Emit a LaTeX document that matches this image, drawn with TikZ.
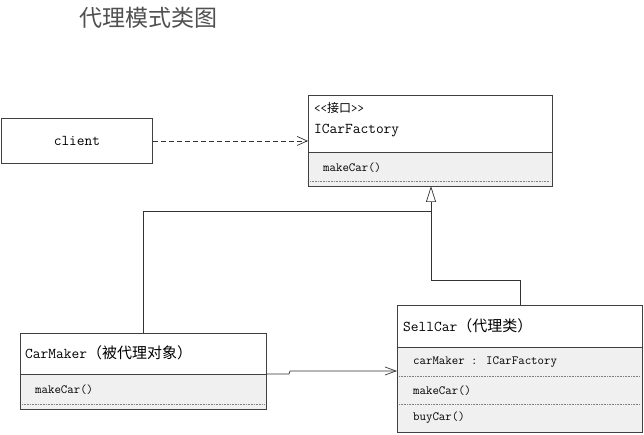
\documentclass[tikz,border=0pt]{standalone}
\usepackage{fontspec}
\newfontfamily\cjk{Noto Sans CJK SC}
\usetikzlibrary{arrows.meta}
\definecolor{linec}{HTML}{404040}
\definecolor{compc}{HTML}{F0F0F0}
\definecolor{titlec}{HTML}{505050}
\begin{document}
\begin{tikzpicture}[x=1pt,y=-1pt,
  umlbox/.style={draw=linec, line width=0.9pt, rectangle, inner sep=0pt, anchor=north west},
  head/.style={anchor=west, inner sep=0pt, font=\ttfamily\fontsize{15}{15}\selectfont, text=black},
  small/.style={anchor=west, inner sep=0pt, font=\ttfamily\fontsize{12.5}{12.5}\selectfont, text=black},
  sepline/.style={draw=linec, line width=0.8pt},
  dotline/.style={draw=gray, line width=0.6pt, dash pattern=on 0.8pt off 0.8pt},
  conn/.style={draw=black!80, line width=0.7pt}
]
\useasboundingbox[fill=white] (0,0) rectangle (644,435);

% title
\node[font=\cjk\fontsize{23}{23}\selectfont, text=titlec, inner sep=0pt] (title) at (148,18) {代理模式类图};

% client
\node[umlbox, minimum width=151pt, minimum height=45pt, font=\ttfamily\fontsize{15}{15}\selectfont] (client) at (1,118) {client};

% ICarFactory
\fill[compc] (308,152) rectangle (552,186);
\node[umlbox, minimum width=244pt, minimum height=91pt] (icf) at (308,95) {};
\draw[sepline] (308,152) -- (552,152);
\draw[dotline] (310,181) -- (550,181);
\node[small] (icfst) at (314,108) {{<}{<}{\cjk\fontsize{12}{12}\selectfont 接口}{>}{>}};
\node[head] (icfname) at (314,131) {ICarFactory};
\node[small] (icfm) at (323,168) {makeCar()};

% CarMaker
\fill[compc] (20,374) rectangle (266,409);
\node[umlbox, minimum width=246pt, minimum height=76pt] (cm) at (20,333) {};
\draw[sepline] (20,374) -- (266,374);
\draw[dotline] (22,404) -- (264,404);
\node[head] (cmname) at (25,353) {CarMaker{\cjk\fontsize{15}{15}\selectfont （被代理对象）}};
\node[small] (cmm) at (35,390) {makeCar()};

% SellCar
\fill[compc] (397,347) rectangle (642,432);
\node[umlbox, minimum width=245pt, minimum height=127pt] (sc) at (397,305) {};
\draw[sepline] (397,347) -- (642,347);
\draw[dotline] (399,376) -- (640,376);
\draw[dotline] (399,404) -- (640,404);
\node[head] (scname) at (403,326) {SellCar{\cjk\fontsize{15}{15}\selectfont （代理类）}};
\node[small] (scattr) at (413,362) {carMaker : ICarFactory};
\node[small] (scm1) at (413,391) {makeCar()};
\node[small] (scm2) at (413,418) {buyCar()};

% client -> ICarFactory (dependency)
\draw[conn, dash pattern=on 5pt off 3pt, -{Straight Barb[length=10pt,width=9pt]}]
  (client.east) -- (client.east -| icf.west);

% generalisation lines
\coordinate (tri) at (431,186);
\coordinate (cmtop) at (143,333);
\coordinate (sctop) at (520,305);
\draw[conn] (cmtop) |- (431,211);
\draw[conn, -{Triangle[length=16pt,width=10pt,fill=white]}] (sctop) -- (520,280) -| (tri);

% CarMaker -> SellCar (association)
\coordinate (cmout) at (266,374);
\draw[conn, -{Straight Barb[length=11pt,width=8pt]}]
  (cmout) -- (289,374) -- (290,371) -- (sc.west |- 0,371);
\end{tikzpicture}
\end{document}
